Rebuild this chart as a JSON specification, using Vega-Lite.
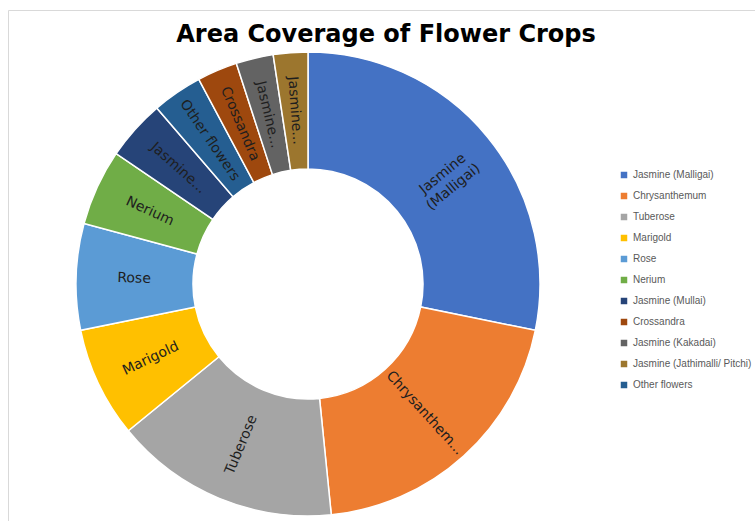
{
  "$schema": "https://vega.github.io/schema/vega-lite/v6.json",
  "width": 760,
  "height": 520,
  "autosize": {"type": "none"},
  "padding": {"left": 8, "top": 10, "right": 0, "bottom": 0},
  "background": "white",
  "view": {"stroke": "#d9d9d9", "strokeWidth": 1, "fill": "white"},
  "config": {"view": {"stroke": "#d9d9d9", "strokeWidth": 1}},
  "title": {
    "text": "Area Coverage of Flower Crops",
    "font": "DejaVu Sans",
    "fontSize": 24,
    "fontWeight": "bold",
    "color": "#000000",
    "anchor": "middle",
    "frame": "group",
    "offset": -37,
    "dx": -2
  },
  "data": {
    "values": [
      {"crop": "Jasmine (Malligai)", "label": "Jasmine|(Malligai)", "pct": 28.2},
      {"crop": "Chrysanthemum", "label": "Chrysanthem...", "pct": 20.2},
      {"crop": "Tuberose", "label": "Tuberose", "pct": 15.7},
      {"crop": "Marigold", "label": "Marigold", "pct": 7.7},
      {"crop": "Rose", "label": "Rose", "pct": 7.4},
      {"crop": "Nerium", "label": "Nerium", "pct": 5.3},
      {"crop": "Jasmine (Mullai)", "label": "Jasmine...", "pct": 4.2},
      {"crop": "Other flowers", "label": "Other flowers", "pct": 3.5},
      {"crop": "Crossandra", "label": "Crossandra", "pct": 2.8},
      {"crop": "Jasmine (Kakadai)", "label": "Jasmine...", "pct": 2.6},
      {"crop": "Jasmine (Jathimalli/ Pitchi)", "label": "Jasmine...", "pct": 2.4}
    ]
  },
  "transform": [{"window": [{"op": "row_number", "as": "rank"}]}],
  "encoding": {
    "theta": {"field": "pct", "type": "quantitative", "stack": true},
    "order": {"field": "rank", "type": "quantitative"}
  },
  "layer": [
    {
      "mark": {"type": "arc", "x": 300, "y": 274, "outerRadius": 232, "innerRadius": 115, "stroke": "#ffffff", "strokeWidth": 1.5},
      "encoding": {
        "color": {
          "field": "crop",
          "type": "nominal",
          "scale": {
            "domain": ["Jasmine (Malligai)", "Chrysanthemum", "Tuberose", "Marigold", "Rose", "Nerium", "Jasmine (Mullai)", "Crossandra", "Jasmine (Kakadai)", "Jasmine (Jathimalli/ Pitchi)", "Other flowers"],
            "range": ["#4472C4", "#ED7D31", "#A5A5A5", "#FFC000", "#5B9BD5", "#70AD47", "#264478", "#9E480E", "#636363", "#9C762E", "#255E91"]
          },
          "legend": {
            "title": null,
            "orient": "none",
            "legendX": 611,
            "legendY": 160,
            "padding": 0,
            "symbolType": "square",
            "symbolSize": 42,
            "symbolStrokeWidth": 0,
            "labelFont": "Liberation Sans",
            "labelFontSize": 10,
            "labelColor": "#595959",
            "labelOffset": 4,
            "rowPadding": 11,
            "labelLimit": 200
          }
        }
      }
    },
    {
      "mark": {
        "type": "text",
        "x": 300,
        "y": 274,
        "radius": 174,
        "font": "DejaVu Sans",
        "fontSize": 14,
        "lineBreak": "|",
        "lineHeight": 17,
        "align": "center",
        "baseline": "middle",
        "angle": {"expr": "(datum.pct_start + datum.pct_end) * 1.8 < 180 ? (datum.pct_start + datum.pct_end) * 1.8 - 90 : (datum.pct_start + datum.pct_end) * 1.8 - 270"}
      },
      "encoding": {
        "text": {"field": "label", "type": "nominal"},
        "detail": {"field": "crop", "type": "nominal"},
        "color": {"value": "#1e1e1e"}
      }
    }
  ]
}
